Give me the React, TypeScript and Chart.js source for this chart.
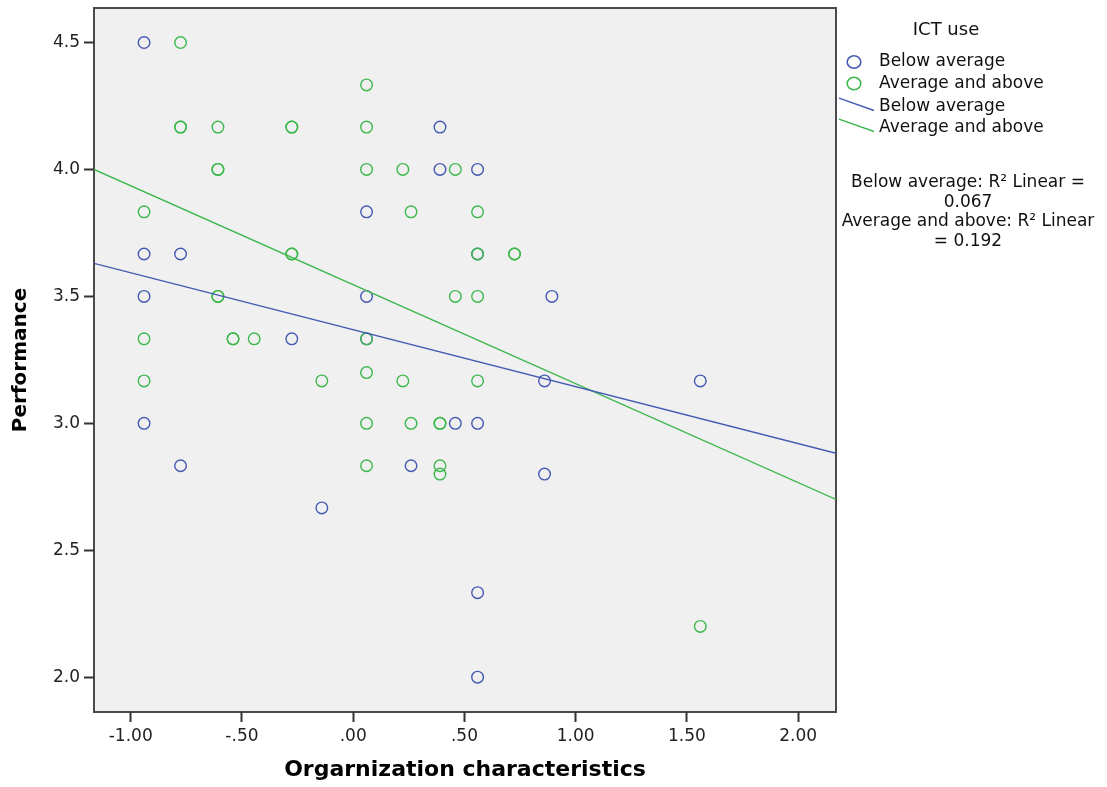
import React, { useEffect, useRef } from "react";
import { Chart, registerables } from "chart.js";

Chart.register(...registerables);

// ---------- data ----------
const seriesNames = ["Below average", "Average and above"];
const seriesColors = ["#4459b2", "#3cb84c"];

const belowX = [-0.94, -0.94, -0.94, -0.94, -0.776, -0.776, -0.276, -0.141, 0.06, 0.06, 0.06, 0.26, 0.39, 0.39, 0.459, 0.559, 0.559, 0.559, 0.559, 0.559, 0.86, 0.86, 0.893, 1.56];
const belowY = [4.5, 3.667, 3.5, 3.0, 3.667, 2.833, 3.333, 2.667, 3.833, 3.5, 3.333, 2.833, 4.167, 4.0, 3.0, 4.0, 3.667, 3.0, 2.333, 2.0, 3.167, 2.8, 3.5, 3.167];

const aboveX = [-0.776, 0.06, -0.776, -0.776, -0.608, -0.276, -0.276, 0.06, -0.608, -0.608, 0.06, 0.223, 0.459, -0.94, 0.26, 0.559, -0.276, -0.276, 0.559, 0.725, 0.725, -0.608, -0.608, 0.459, 0.559, -0.94, -0.54, -0.54, -0.445, 0.06, 0.06, -0.94, -0.141, 0.223, 0.559, 0.06, 0.26, 0.39, 0.39, 0.06, 0.39, 0.39, 1.56];
const aboveY = [4.5, 4.333, 4.167, 4.167, 4.167, 4.167, 4.167, 4.167, 4.0, 4.0, 4.0, 4.0, 4.0, 3.833, 3.833, 3.833, 3.667, 3.667, 3.667, 3.667, 3.667, 3.5, 3.5, 3.5, 3.5, 3.333, 3.333, 3.333, 3.333, 3.333, 3.2, 3.167, 3.167, 3.167, 3.167, 3.0, 3.0, 3.0, 3.0, 2.833, 2.833, 2.8, 2.2];

// linear fits: [intercept, slope]
const fitBelow = [3.369, -0.2243];
const fitAbove = [3.546, -0.3898];
const r2Values = ["0.067", "0.192"];

const xRange = [-1.165, 2.17];
const yRange = [1.863, 4.636];
const xTicks = [-1, -0.5, 0, 0.5, 1, 1.5, 2];
const yTicks = [2, 2.5, 3, 3.5, 4, 4.5];

const legendTitle = "ICT use";
const xTitle = "Orgarnization characteristics";
const yTitle = "Performance";

// ---------- helpers ----------
const fmtX = (v: number) => {
  const s = Math.abs(v).toFixed(2);
  const t = s.startsWith("0") ? s.slice(1) : s;
  return (v < 0 ? "-" : "") + t;
};

const pts = (xs: number[], ys: number[]) => xs.map((x, i) => ({ x, y: ys[i] }));
const fitLine = (f: number[]) => xRange.map((x) => ({ x, y: f[0] + f[1] * x }));

const FONT = '"DejaVu Sans", "Liberation Sans", Arial, sans-serif';

const bgPlugin = {
  id: "plotBg",
  beforeDraw(chart: any) {
    const { ctx, chartArea: a } = chart;
    ctx.save();
    ctx.fillStyle = "#f0f0f0";
    ctx.fillRect(a.left, a.top, a.right - a.left, a.bottom - a.top);
    ctx.strokeStyle = "#4a4a4a";
    ctx.lineWidth = 2;
    ctx.strokeRect(a.left, a.top, a.right - a.left, a.bottom - a.top);
    ctx.restore();
  },
};

const legendPlugin = {
  id: "spssLegend",
  afterDraw(chart: any) {
    const ctx = chart.ctx;
    ctx.save();
    ctx.fillStyle = "#111";
    ctx.textBaseline = "middle";
    ctx.font = `18px ${FONT}`;
    ctx.textAlign = "center";
    ctx.fillText(legendTitle, 946, 30);

    ctx.font = `17px ${FONT}`;
    ctx.textAlign = "left";
    seriesColors.forEach((c, i) => {
      const y = 62 + i * 21.5;
      ctx.beginPath();
      ctx.ellipse(854, y, 6.8, 6.2, 0, 0, Math.PI * 2);
      ctx.strokeStyle = c;
      ctx.lineWidth = 1.6;
      ctx.stroke();
      ctx.fillStyle = "#111";
      ctx.fillText(seriesNames[i], 879, y);
    });
    seriesColors.forEach((c, i) => {
      const y = 106.5 + i * 21;
      ctx.beginPath();
      ctx.moveTo(839, y - 8.4);
      ctx.lineTo(874, y + 4);
      ctx.strokeStyle = c;
      ctx.lineWidth = 1.4;
      ctx.stroke();
      ctx.fillStyle = "#111";
      ctx.fillText(seriesNames[i], 879, y);
    });

    ctx.textAlign = "center";
    const lines = [
      `${seriesNames[0]}: R² Linear =`,
      r2Values[0],
      `${seriesNames[1]}: R² Linear`,
      `= ${r2Values[1]}`,
    ];
    const ys = [183, 202.5, 222, 241.5];
    lines.forEach((t, i) => ctx.fillText(t, 968, ys[i]));
    ctx.restore();
  },
};

export default function App() {
  const ref = useRef<HTMLCanvasElement | null>(null);

  useEffect(() => {
    if (!ref.current) return;
    const tickFont = { family: FONT, size: 17 };
    const grid = {
      drawOnChartArea: false,
      drawTicks: true,
      tickLength: 10,
      tickColor: "#333",
      tickWidth: 2,
    };
    const chart = new Chart(ref.current, {
      type: "scatter",
      data: {
        datasets: [
          {
            label: seriesNames[0] + " fit",
            data: fitLine(fitBelow),
            showLine: true,
            borderColor: seriesColors[0],
            borderWidth: 1.4,
            pointRadius: 0,
          },
          {
            label: seriesNames[1] + " fit",
            data: fitLine(fitAbove),
            showLine: true,
            borderColor: seriesColors[1],
            borderWidth: 1.4,
            pointRadius: 0,
          },
          {
            label: seriesNames[1],
            data: pts(aboveX, aboveY),
            pointStyle: "circle",
            pointRadius: 5.8,
            pointBorderWidth: 1.4,
            borderColor: seriesColors[1],
            backgroundColor: "rgba(0,0,0,0)",
          },
          {
            label: seriesNames[0],
            data: pts(belowX, belowY),
            pointStyle: "circle",
            pointRadius: 5.8,
            pointBorderWidth: 1.4,
            borderColor: seriesColors[0],
            backgroundColor: "rgba(0,0,0,0)",
          },
        ],
      },
      options: {
        responsive: false,
        animation: false,
        devicePixelRatio: 1,
        layout: { padding: { left: 0, top: 8, right: 271, bottom: 0 } },
        plugins: {
          legend: { display: false },
          tooltip: { enabled: false },
        },
        scales: {
          x: {
            type: "linear",
            min: xRange[0],
            max: xRange[1],
            afterBuildTicks: (s: any) => {
              s.ticks = xTicks.map((v) => ({ value: v }));
            },
            afterFit: (s: any) => {
              s.height = 75;
              s.paddingLeft = 0;
              s.paddingRight = 0;
            },
            ticks: {
              callback: (v: any) => fmtX(Number(v)),
              font: tickFont,
              color: "#222",
              padding: 4,
              maxRotation: 0,
              autoSkip: false,
            },
            grid,
            border: { display: false },
            title: {
              display: true,
              text: xTitle,
              color: "#000",
              font: { family: FONT, size: 22, weight: "bold" },
              padding: { top: 0, bottom: 4 },
            },
          },
          y: {
            type: "linear",
            min: yRange[0],
            max: yRange[1],
            afterBuildTicks: (s: any) => {
              s.ticks = yTicks.map((v) => ({ value: v }));
            },
            afterFit: (s: any) => {
              s.width = 94;
              s.paddingTop = 0;
              s.paddingBottom = 0;
            },
            ticks: {
              callback: (v: any) => Number(v).toFixed(1),
              font: tickFont,
              color: "#222",
              padding: 4,
              autoSkip: false,
            },
            grid,
            border: { display: false },
            title: {
              display: true,
              text: yTitle,
              color: "#000",
              font: { family: FONT, size: 20, weight: "bold" },
              padding: { top: 9, bottom: 0 },
            },
          },
        },
      },
      plugins: [bgPlugin, legendPlugin],
    } as any);
    return () => chart.destroy();
  }, []);

  return (
    <div style={{ position: "absolute", left: 0, top: 0, width: 1107, height: 787, background: "#fff" }}>
      <canvas ref={ref} width={1107} height={787} style={{ display: "block" }} />
    </div>
  );
}
